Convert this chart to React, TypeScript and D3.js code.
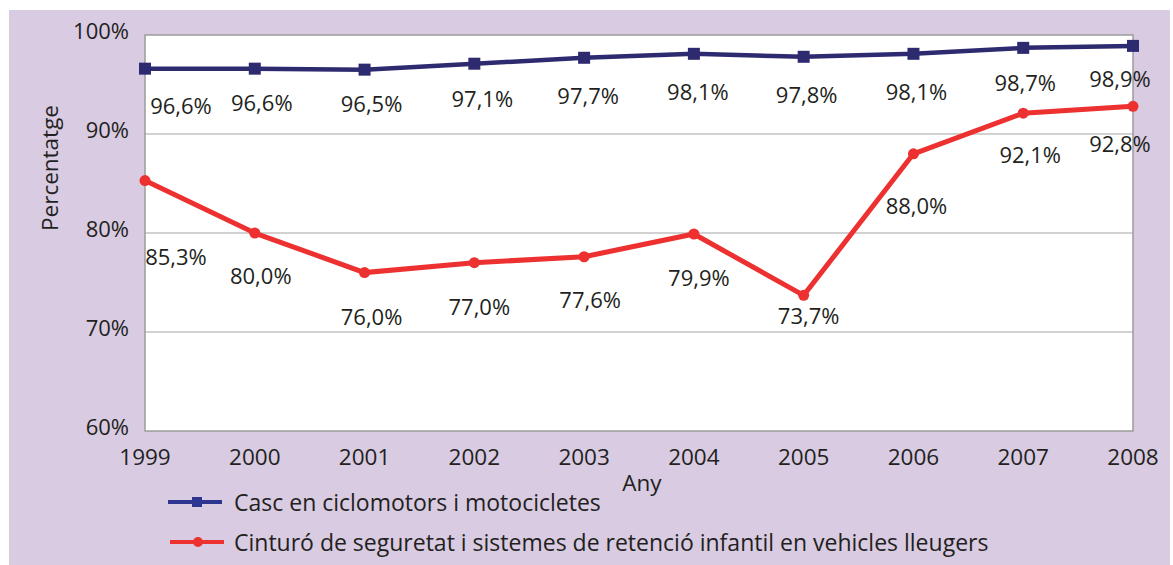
import React from 'react';
import * as d3 from 'd3';

const years = [1999, 2000, 2001, 2002, 2003, 2004, 2005, 2006, 2007, 2008];
const casc = [96.6, 96.6, 96.5, 97.1, 97.7, 98.1, 97.8, 98.1, 98.7, 98.9];
const cinturo = [85.3, 80.0, 76.0, 77.0, 77.6, 79.9, 73.7, 88.0, 92.1, 92.8];
const yTicks = [60, 70, 80, 90, 100];
const seriesNames = [
  'Casc en ciclomotors i motocicletes',
  'Cinturó de seguretat i sistemes de retenció infantil en vehicles lleugers',
];

// hand-placed label nudges (px), as in the original
const cascLabelOffset = [[36, 36], [7, 33], [7, 33], [8, 34], [4, 37], [4, 37], [3, 37], [3, 37], [2, 34], [-13, 32]];
const cinturoLabelOffset = [[31, 75], [6, 42], [7, 43], [5, 43], [6, 42], [5, 43], [5, 20], [3, 51], [7, 41], [-13, 37]];

const W = 1173;
const H = 565;
const left = 145;
const right = 1133;
const top = 35;
const bottom = 431;

const x = d3.scaleLinear().domain([1999, 2008]).range([left, right]);
const y = d3.scaleLinear().domain([60, 100]).range([bottom, top]);

const BLUE = '#2e2a70';
const RED = '#ec3130';
const TEXT = '#231f20';
const FONT = '"Open Sans", "Noto Sans", sans-serif';

const fmt = (v: number) => v.toFixed(1).replace('.', ',') + '%';

const App = () => {
  const line = d3.line<number>()
    .x((d, i) => x(years[i]))
    .y((d) => y(d));

  return (
    <svg width={W} height={H} style={{ position: 'absolute', left: 0, top: 0 }} fontFamily={FONT}>
      <rect x={0} y={0} width={W} height={H} fill="#ffffff" />
      <rect x={9} y={10} width={1161} height={H - 10} fill="#d8cbe2" />
      <rect x={left} y={top} width={right - left} height={bottom - top} fill="#ffffff" />

      {yTicks.filter(t => t > 60 && t < 100).map(t => (
        <line key={t} x1={left} x2={right} y1={y(t)} y2={y(t)} stroke="#a3a3a3" strokeWidth={1.2} />
      ))}
      <rect x={left} y={top} width={right - left} height={bottom - top} fill="none" stroke="#9c9c9c" strokeWidth={1.5} />

      {yTicks.map(t => (
        <text key={t} x={129} y={y(t) - 5} textAnchor="end" dominantBaseline="central" fontSize={22} fill={TEXT}>
          {t}%
        </text>
      ))}
      {years.map(yr => (
        <text key={yr} x={x(yr)} y={bottom + 25} textAnchor="middle" dominantBaseline="central" fontSize={22.5} fill={TEXT}>
          {yr}
        </text>
      ))}
      <text x={642} y={482} textAnchor="middle" dominantBaseline="central" fontSize={22.5} fill={TEXT}>Any</text>
      <text transform="translate(49,168) rotate(-90)" textAnchor="middle" dominantBaseline="central" fontSize={22.5} fill={TEXT}>
        Percentatge
      </text>

      <path d={line(casc) || ''} fill="none" stroke={BLUE} strokeWidth={4.5} />
      {casc.map((v, i) => (
        <rect key={i} x={x(years[i]) - 6} y={y(v) - 6} width={12} height={12} fill={BLUE} />
      ))}
      <path d={line(cinturo) || ''} fill="none" stroke={RED} strokeWidth={5} />
      {cinturo.map((v, i) => (
        <circle key={i} cx={x(years[i])} cy={y(v)} r={5.5} fill={RED} />
      ))}

      {casc.map((v, i) => (
        <text key={i} x={x(years[i]) + cascLabelOffset[i][0]} y={y(v) + cascLabelOffset[i][1]}
          textAnchor="middle" dominantBaseline="central" fontSize={22} fill={TEXT}>
          {fmt(v)}
        </text>
      ))}
      {cinturo.map((v, i) => (
        <text key={i} x={x(years[i]) + cinturoLabelOffset[i][0]} y={y(v) + cinturoLabelOffset[i][1]}
          textAnchor="middle" dominantBaseline="central" fontSize={22} fill={TEXT}>
          {fmt(v)}
        </text>
      ))}

      {/* legend */}
      <g>
        <line x1={168} x2={222} y1={502} y2={502} stroke="#2e3590" strokeWidth={4} />
        <rect x={192} y={497} width={10} height={10} fill="#2e3590" />
        <text x={234} y={502} dominantBaseline="central" fontSize={23} fill={TEXT}>{seriesNames[0]}</text>
        <line x1={170} x2={224} y1={542} y2={542} stroke={RED} strokeWidth={4} />
        <circle cx={198} cy={542} r={5} fill={RED} />
        <text x={234} y={542} dominantBaseline="central" fontSize={23} fill={TEXT}>{seriesNames[1]}</text>
      </g>
    </svg>
  );
};

export default App;
